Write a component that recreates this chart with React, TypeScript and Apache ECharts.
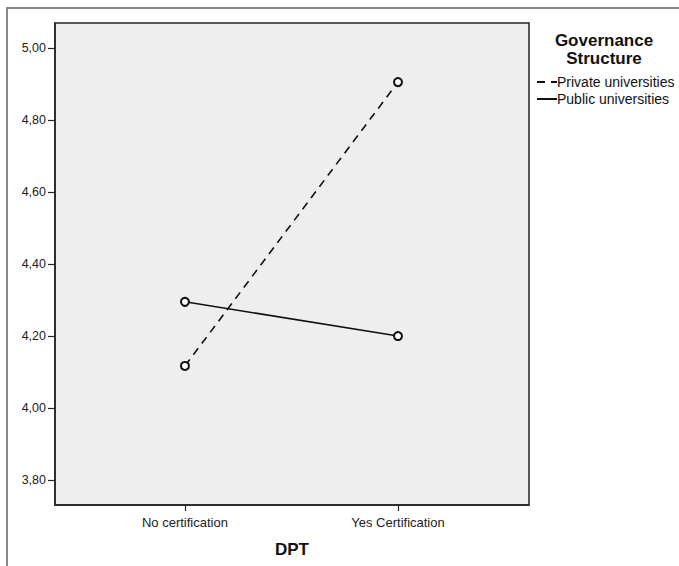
import React, { useEffect, useRef } from "react";
import * as echarts from "echarts";

const categories = ["No certification", "Yes Certification"];
const seriesNames = ["Private universities", "Public universities"];
const privateValues = [4.117, 4.905];
const publicValues = [4.295, 4.2];
const yTicks = [3.8, 4.0, 4.2, 4.4, 4.6, 4.8, 5.0];
const legendTitle = ["Governance", "Structure"];
const xTitle = "DPT";

const FONT = "'Liberation Sans', Arial, sans-serif";

export default function App() {
  const ref = useRef<HTMLDivElement>(null);
  useEffect(() => {
    if (!ref.current) return;
    const chart = echarts.init(ref.current, null, { renderer: "svg" });
    const toPts = (vals: number[]) => vals.map((v, i) => [i, v]);
    const option: any = {
      animation: false,
      backgroundColor: "#ffffff",
      textStyle: { fontFamily: FONT },
      grid: {
        left: 55,
        top: 23,
        width: 474,
        height: 482,
        show: true,
        backgroundColor: "#eeeeee",
        borderColor: "#222222",
        borderWidth: 1.5,
      },
      xAxis: {
        type: "value",
        min: -0.61,
        max: 1.615,
        splitLine: { show: false },
        axisLine: { show: true, onZero: false, lineStyle: { color: "#222", width: 1.5 } },
        axisTick: { show: true, length: 6, customValues: [0, 1], lineStyle: { color: "#222", width: 1.2 } },
        axisLabel: {
          customValues: [0, 1],
          formatter: (v: number) => categories[Math.round(v)] ?? "",
          fontSize: 13,
          color: "#222",
          margin: 11,
          fontFamily: FONT,
        },
        name: xTitle,
        nameLocation: "middle",
        nameGap: 36,
        nameTextStyle: { fontSize: 17, fontWeight: "bold", color: "#111", fontFamily: FONT },
      },
      yAxis: {
        type: "value",
        min: 3.731,
        max: 5.069,
        splitLine: { show: false },
        axisLine: { show: true, onZero: false, lineStyle: { color: "#222", width: 1.5 } },
        axisTick: { show: true, length: 7, customValues: yTicks, lineStyle: { color: "#222", width: 1.2 } },
        axisLabel: {
          customValues: yTicks,
          formatter: (v: number) => v.toFixed(2).replace(".", ","),
          fontSize: 12.5,
          color: "#222",
          margin: 9,
          fontFamily: FONT,
        },
      },
      legend: {
        orient: "vertical",
        left: 531,
        top: 70,
        itemWidth: 20,
        itemHeight: 14,
        itemGap: 3,
        textStyle: { fontSize: 14, color: "#111", fontFamily: FONT, padding: [0, 0, 0, -5] },
        itemStyle: { opacity: 0 },
        data: seriesNames,
      },
      series: [
        {
          name: seriesNames[0],
          type: "line",
          data: toPts(privateValues),
          symbol: "emptyCircle",
          symbolSize: 8,
          lineStyle: { color: "#111", width: 1.6, type: [8, 6] },
          itemStyle: { color: "#111", borderColor: "#222", borderWidth: 1.3 },
        },
        {
          name: seriesNames[1],
          type: "line",
          data: toPts(publicValues),
          symbol: "emptyCircle",
          symbolSize: 8,
          lineStyle: { color: "#111", width: 1.6, type: "solid" },
          itemStyle: { color: "#111", borderColor: "#222", borderWidth: 1.3 },
        },
      ],
      graphic: [
        {
          type: "rect",
          shape: { x: 7, y: 8, width: 700, height: 600 },
          style: { fill: "none", stroke: "#888", lineWidth: 2 },
          silent: true,
          z: 0,
        },
        {
          type: "text",
          x: 604,
          y: 49,
          style: {
            text: legendTitle.join("\n"),
            font: `bold 17px ${FONT}`,
            lineHeight: 18,
            fill: "#111",
            textAlign: "center",
            textVerticalAlign: "middle",
          },
        },
      ],
    };
    chart.setOption(option);
    return () => chart.dispose();
  }, []);
  return (
    <div
      ref={ref}
      style={{ position: "fixed", left: 0, top: 0, width: 679, height: 566 }}
    />
  );
}
